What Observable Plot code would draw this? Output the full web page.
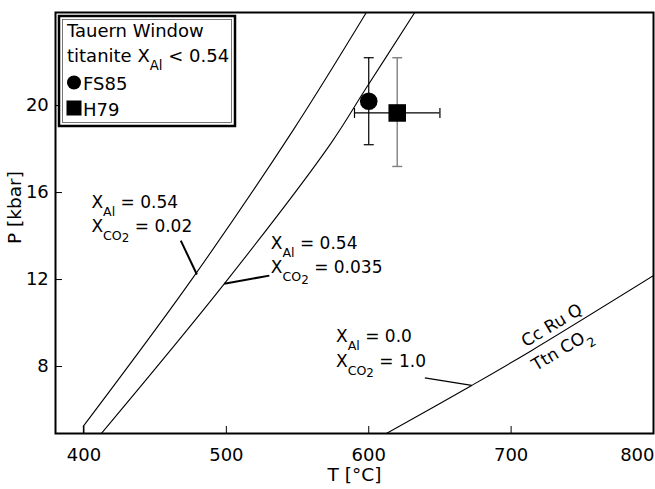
<!DOCTYPE html>
<html><head><meta charset="utf-8">
<script src="https://cdn.jsdelivr.net/npm/d3@7"></script>
<script src="https://cdn.jsdelivr.net/npm/@observablehq/plot@0.6"></script>
<style>
body{margin:0;background:#fff;}
#chart{position:relative;width:655px;height:489px;}
svg{font-family:"DejaVu Sans",sans-serif;}
</style></head><body><div id="chart"></div>
<script>
// ---- data ----
const xTicks = [400, 500, 600, 700, 800];
const yTicks = [8, 12, 16, 20];

// reaction curves [T (°C), P (kbar)]
const curveXco2_002 = [[399.6, 5.26], [475.1, 11.95], [546.7, 18.85], [598.3, 24.28]];
const curveXco2_002stub = [[399.6, 4.92], [399.6, 5.26]];
const curveXco2_0035 = [[412.2, 4.92], [498.5, 11.8], [573.2, 18.24], [597.1, 20.69], [632.3, 24.28]];
const curveXco2_1 = [[612.4, 4.92], [672.3, 7.13], [714.5, 8.74], [801, 12.22]];

// data points
const sampleNames = ["FS85", "H79"];
const sampleT = [600, 620];
const sampleP = [20.2, 19.66];
const samplePmin = [18.2, 17.2];
const samplePmax = [22.2, 22.2];
const sampleTmin = [null, 590];
const sampleTmax = [null, 650];

// annotation labels (left, baseline)
const annoText = ["X_{Al} = 0.54", "X_{CO_{2}} = 0.02", "X_{Al} = 0.54", "X_{CO_{2}} = 0.035", "X_{Al} = 0.0", "X_{CO_{2}} = 1.0"];
const annoT = [405.2, 405.2, 531.2, 531.2, 577.0, 577.0];
const annoP = [15.31, 14.18, 13.4, 12.28, 9.12, 7.97];

// pointer leaders
const leaderT1 = [468.0, 530.2, 639.4];
const leaderP1 = [13.79, 12.18, 7.48];
const leaderT2 = [479.3, 498.5, 672.3];
const leaderP2 = [12.23, 11.81, 7.13];
const leaderW = [2, 2, 1.2];

// reaction labels along curve
const rxnText = ["Cc Ru Q", "Ttn CO_{2}"];
const rxnT = [728.6, 735.6];
const rxnP = [9.89, 8.78];

// legend
const legendTitle = ["Tauern Window", "titanite X_{Al} < 0.54"];

// ---- tables ----
const samples = sampleNames.map((n, i) => ({name: n, T: sampleT[i], P: sampleP[i], lo: samplePmin[i], hi: samplePmax[i], tlo: sampleTmin[i], thi: sampleTmax[i]}));
const annos = annoText.map((t, i) => ({label: t, T: annoT[i], P: annoP[i]}));
const leaders = leaderT1.map((t, i) => ({T1: t, P1: leaderP1[i], T2: leaderT2[i], P2: leaderP2[i], w: leaderW[i]}));
const rxn = rxnText.map((t, i) => ({label: t, T: rxnT[i], P: rxnP[i]}));

const hcap = {draw(ctx, size) { const w = Math.sqrt(size / Math.PI); ctx.moveTo(-w, 0); ctx.lineTo(w, 0); }};
const vcap = {draw(ctx, size) { const w = Math.sqrt(size / Math.PI); ctx.moveTo(0, -w); ctx.lineTo(0, w); }};

const fs85 = samples.filter(d => d.name === "FS85");
const h79 = samples.filter(d => d.name === "H79");
const curveOpts = {x: d => d[0], y: d => d[1], curve: "catmull-rom", stroke: "#000", strokeWidth: 1.1, clip: true};
const lastX = xTicks[xTicks.length - 1];

const plot = Plot.plot({
  width: 655, height: 489,
  marginLeft: 55, marginRight: 2, marginTop: 12, marginBottom: 56,
  style: {fontFamily: '"DejaVu Sans", sans-serif', fontSize: "18px", background: "#fff", color: "#000"},
  x: {domain: [380, 800]},
  y: {domain: [4.92, 24.28]},
  marks: [
    Plot.line(curveXco2_002, curveOpts),
    Plot.line(curveXco2_002stub, {...curveOpts, curve: "linear"}),
    Plot.line(curveXco2_0035, curveOpts),
    Plot.line(curveXco2_1, curveOpts),
    Plot.link(leaders, {x1: "T1", y1: "P1", x2: "T2", y2: "P2", stroke: "#000", strokeWidth: "w"}),
    // error bars
    Plot.ruleY(h79, {y: "P", x1: "tlo", x2: "thi", stroke: "#000", strokeWidth: 1.2}),
    Plot.dot(h79, {x: "tlo", y: "P", symbol: vcap, r: 5, stroke: "#000", fill: "none", strokeWidth: 1.2}),
    Plot.dot(h79, {x: "thi", y: "P", symbol: vcap, r: 5, stroke: "#000", fill: "none", strokeWidth: 1.2}),
    Plot.ruleX(h79, {x: "T", y1: "lo", y2: "hi", stroke: "#808080", strokeWidth: 1.4}),
    Plot.dot(h79, {x: "T", y: "lo", symbol: hcap, r: 5, stroke: "#808080", fill: "none", strokeWidth: 1.4}),
    Plot.dot(h79, {x: "T", y: "hi", symbol: hcap, r: 5, stroke: "#808080", fill: "none", strokeWidth: 1.4}),
    Plot.ruleX(fs85, {x: "T", y1: "lo", y2: "hi", stroke: "#000", strokeWidth: 1.2}),
    Plot.dot(fs85, {x: "T", y: "lo", symbol: hcap, r: 5, stroke: "#000", fill: "none", strokeWidth: 1.2}),
    Plot.dot(fs85, {x: "T", y: "hi", symbol: hcap, r: 5, stroke: "#000", fill: "none", strokeWidth: 1.2}),
    Plot.dot(fs85, {x: "T", y: "P", symbol: "circle", r: 8.8, fill: "#000", stroke: "none"}),
    Plot.dot(h79, {x: "T", y: "P", symbol: "square", r: 9.9, fill: "#000", stroke: "none"}),
    // axes
    Plot.axisX({ticks: xTicks, tickSize: -7, tickPadding: 22, label: null, fontSize: 18, tickFormat: d => d === lastX ? "" : String(d)}),
    Plot.axisX({ticks: [lastX], tickSize: 0, tickPadding: 15, label: null, fontSize: 18, textAnchor: "end", dx: 1}),
    Plot.axisY({ticks: yTicks, tickSize: -7, tickPadding: 13.7, label: null, fontSize: 18}),
    Plot.frame({stroke: "#000", strokeWidth: 2}),
    Plot.text(["T [°C]"], {frameAnchor: "bottom", dy: 47, lineAnchor: "bottom", fontSize: 18.5}),
    Plot.text(["P [kbar]"], {frameAnchor: "left", dx: -35, dy: 21, rotate: -90, lineAnchor: "bottom", fontSize: 18.5}),
    // annotations
    Plot.text(annos, {x: "T", y: "P", text: "label", textAnchor: "start", lineAnchor: "bottom", fontSize: 17}),
    Plot.text(rxn, {x: "T", y: "P", text: "label", textAnchor: "middle", lineAnchor: "middle", rotate: -31, fontSize: 17})
  ]
});

const svgns = "http://www.w3.org/2000/svg";
function parseMarkup(s) {
  const segs = []; let level = 0, buf = "";
  for (let i = 0; i < s.length; i++) {
    if (s[i] === "_" && s[i + 1] === "{") { if (buf) segs.push({text: buf, level}); buf = ""; level++; i++; }
    else if (s[i] === "}") { if (buf) segs.push({text: buf, level}); buf = ""; level--; }
    else buf += s[i];
  }
  if (buf) segs.push({text: buf, level});
  return segs;
}
function renderRich(el, s, base) {
  const sizes = [base, base * 0.74, base * 0.7];
  const shifts = [0, base * 0.47, base * 0.6];
  el.textContent = "";
  let cur = 0;
  for (const seg of parseMarkup(s)) {
    const t = document.createElementNS(svgns, "tspan");
    const off = shifts[seg.level];
    t.setAttribute("dy", (off - cur).toFixed(2));
    cur = off;
    t.setAttribute("font-size", sizes[seg.level].toFixed(1));
    t.textContent = seg.text;
    el.appendChild(t);
  }
}
d3.select(plot).selectAll("text").each(function() {
  const s = this.textContent;
  if (s.includes("_{")) renderRich(this, s, 17);
});

// legend box (inside the frame, top-left)
const svg = d3.select(plot);
const lg = svg.append("g").attr("font-family", '"DejaVu Sans", sans-serif').attr("font-size", 18).attr("text-anchor", "start");
lg.append("rect").attr("x", 59).attr("y", 16).attr("width", 176).attr("height", 110).attr("fill", "#fff").attr("stroke", "#000").attr("stroke-width", 2.5);
lg.append("rect").attr("x", 62.5).attr("y", 19.5).attr("width", 169).attr("height", 103).attr("fill", "none").attr("stroke", "#555").attr("stroke-width", 0.8);
lg.append("text").attr("x", 67).attr("y", 36.5).text(legendTitle[0]);
const t2 = lg.append("text").attr("x", 67).attr("y", 62).node();
renderRich(t2, legendTitle[1], 18);
lg.append("circle").attr("cx", 74).attr("cy", 82.5).attr("r", 7).attr("fill", "#000");
lg.append("text").attr("x", 83).attr("y", 90).text(sampleNames[0]);
lg.append("rect").attr("x", 66.5).attr("y", 100.5).attr("width", 15).attr("height", 15).attr("fill", "#000");
lg.append("text").attr("x", 83).attr("y", 115.5).text(sampleNames[1]);

document.getElementById("chart").appendChild(plot);
</script></body></html>
